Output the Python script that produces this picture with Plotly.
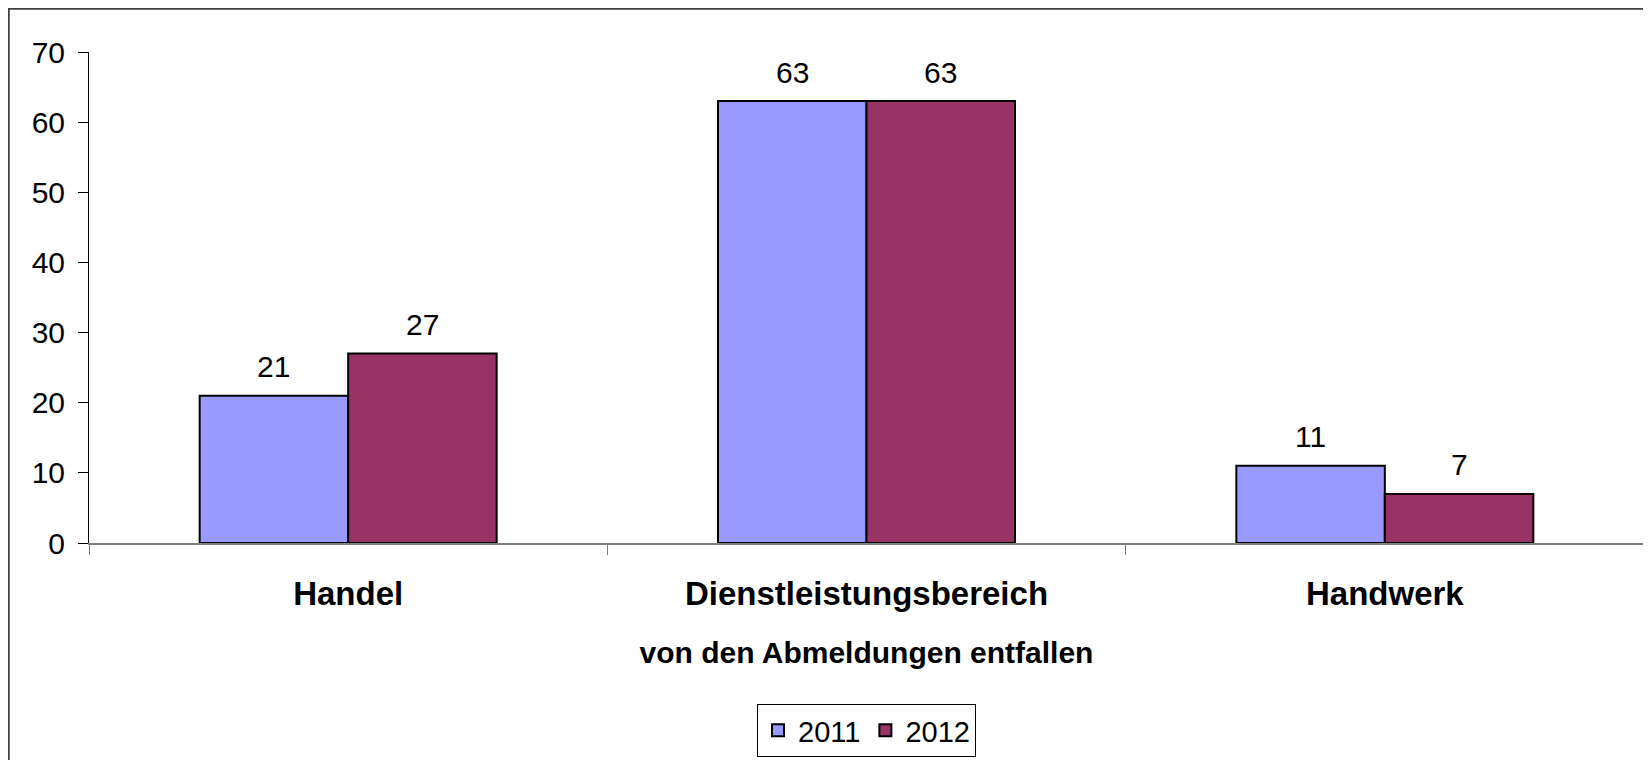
import plotly.graph_objects as go

categories = ["Handel", "Dienstleistungsbereich", "Handwerk"]
series_names = ["2011", "2012"]
values_2011 = [21, 63, 11]
values_2012 = [27, 63, 7]
colors = ["#9999FF", "#993366"]
y_ticks = [0, 10, 20, 30, 40, 50, 60, 70]
x_title = "von den Abmeldungen entfallen"

FONT = "Liberation Sans, Arial, sans-serif"
W, H = 1651, 760
OFF = 8  # page body margin offset
ML, MR, MT, MB = 89 - OFF, 15, 52 - OFF, 225
PW, PH = W - ML - MR, H - MT - MB
BARGAP = 0.427

fig = go.Figure()
for name, vals, col in zip(series_names, [values_2011, values_2012], colors):
    fig.add_trace(go.Bar(
        x=categories, y=vals, name=name,
        marker=dict(color=col, line=dict(color="black", width=2)),
    ))

# data labels above bars
bar_w = (1 - BARGAP) / 2
annotations = []
for si, vals in enumerate([values_2011, values_2012]):
    off = (si - 0.5) * bar_w
    for ci, v in enumerate(vals):
        annotations.append(dict(
            x=ci + off, y=v, xref="x", yref="y", text=str(v),
            showarrow=False, yanchor="middle", yshift=29,
            font=dict(family=FONT, size=30, color="black"),
        ))

def px_x(p):
    return (p - ML) / PW

def px_y(p):
    return (H - MB - p) / PH

shapes = [
    dict(type="line", xref="paper", yref="paper",
         x0=px_x(0.5), x1=px_x(0.5), y0=px_y(0), y1=px_y(H + 5),
         line=dict(color="#404040", width=2.5)),
    dict(type="line", xref="paper", yref="paper",
         x0=px_x(0), x1=px_x(W + 5), y0=px_y(0.5), y1=px_y(0.5),
         line=dict(color="#404040", width=2.5)),
]

fig.update_layout(
    width=W, height=H,
    margin=dict(l=ML, r=MR, t=MT, b=MB, autoexpand=False),
    paper_bgcolor="white", plot_bgcolor="white",
    barmode="group", bargap=BARGAP, bargroupgap=0,
    font=dict(family=FONT, color="black"),
    showlegend=True,
    legend=dict(
        orientation="h", x=0.5, xanchor="center", y=px_y(704 - OFF), yanchor="top",
        bordercolor="black", borderwidth=1, bgcolor="white",
        font=dict(family=FONT, size=29, color="black"),
        itemwidth=30, traceorder="normal",
    ),
    annotations=annotations,
    shapes=shapes,
)
fig.update_xaxes(
    automargin=False,
    showline=True, linecolor="#808080", linewidth=1.5,
    ticks="outside", ticklen=10, tickcolor="#808080", tickwidth=1,
    tickson="boundaries", showgrid=False, zeroline=False,
    tickfont=dict(family=FONT, size=33, color="black", weight="bold"),
    ticklabelstandoff=21,
    title=dict(text=x_title, standoff=31,
               font=dict(family=FONT, size=30, color="black", weight="bold")),
)
fig.update_yaxes(
    automargin=False,
    range=[0, 70], tickvals=y_ticks, showline=True, linecolor="black", linewidth=1,
    ticks="outside", ticklen=10, tickcolor="black", tickwidth=1,
    showgrid=False, zeroline=False,
    tickfont=dict(family=FONT, size=30, color="black"),
    ticklabelstandoff=7,
)

fig.write_html("out.html")
